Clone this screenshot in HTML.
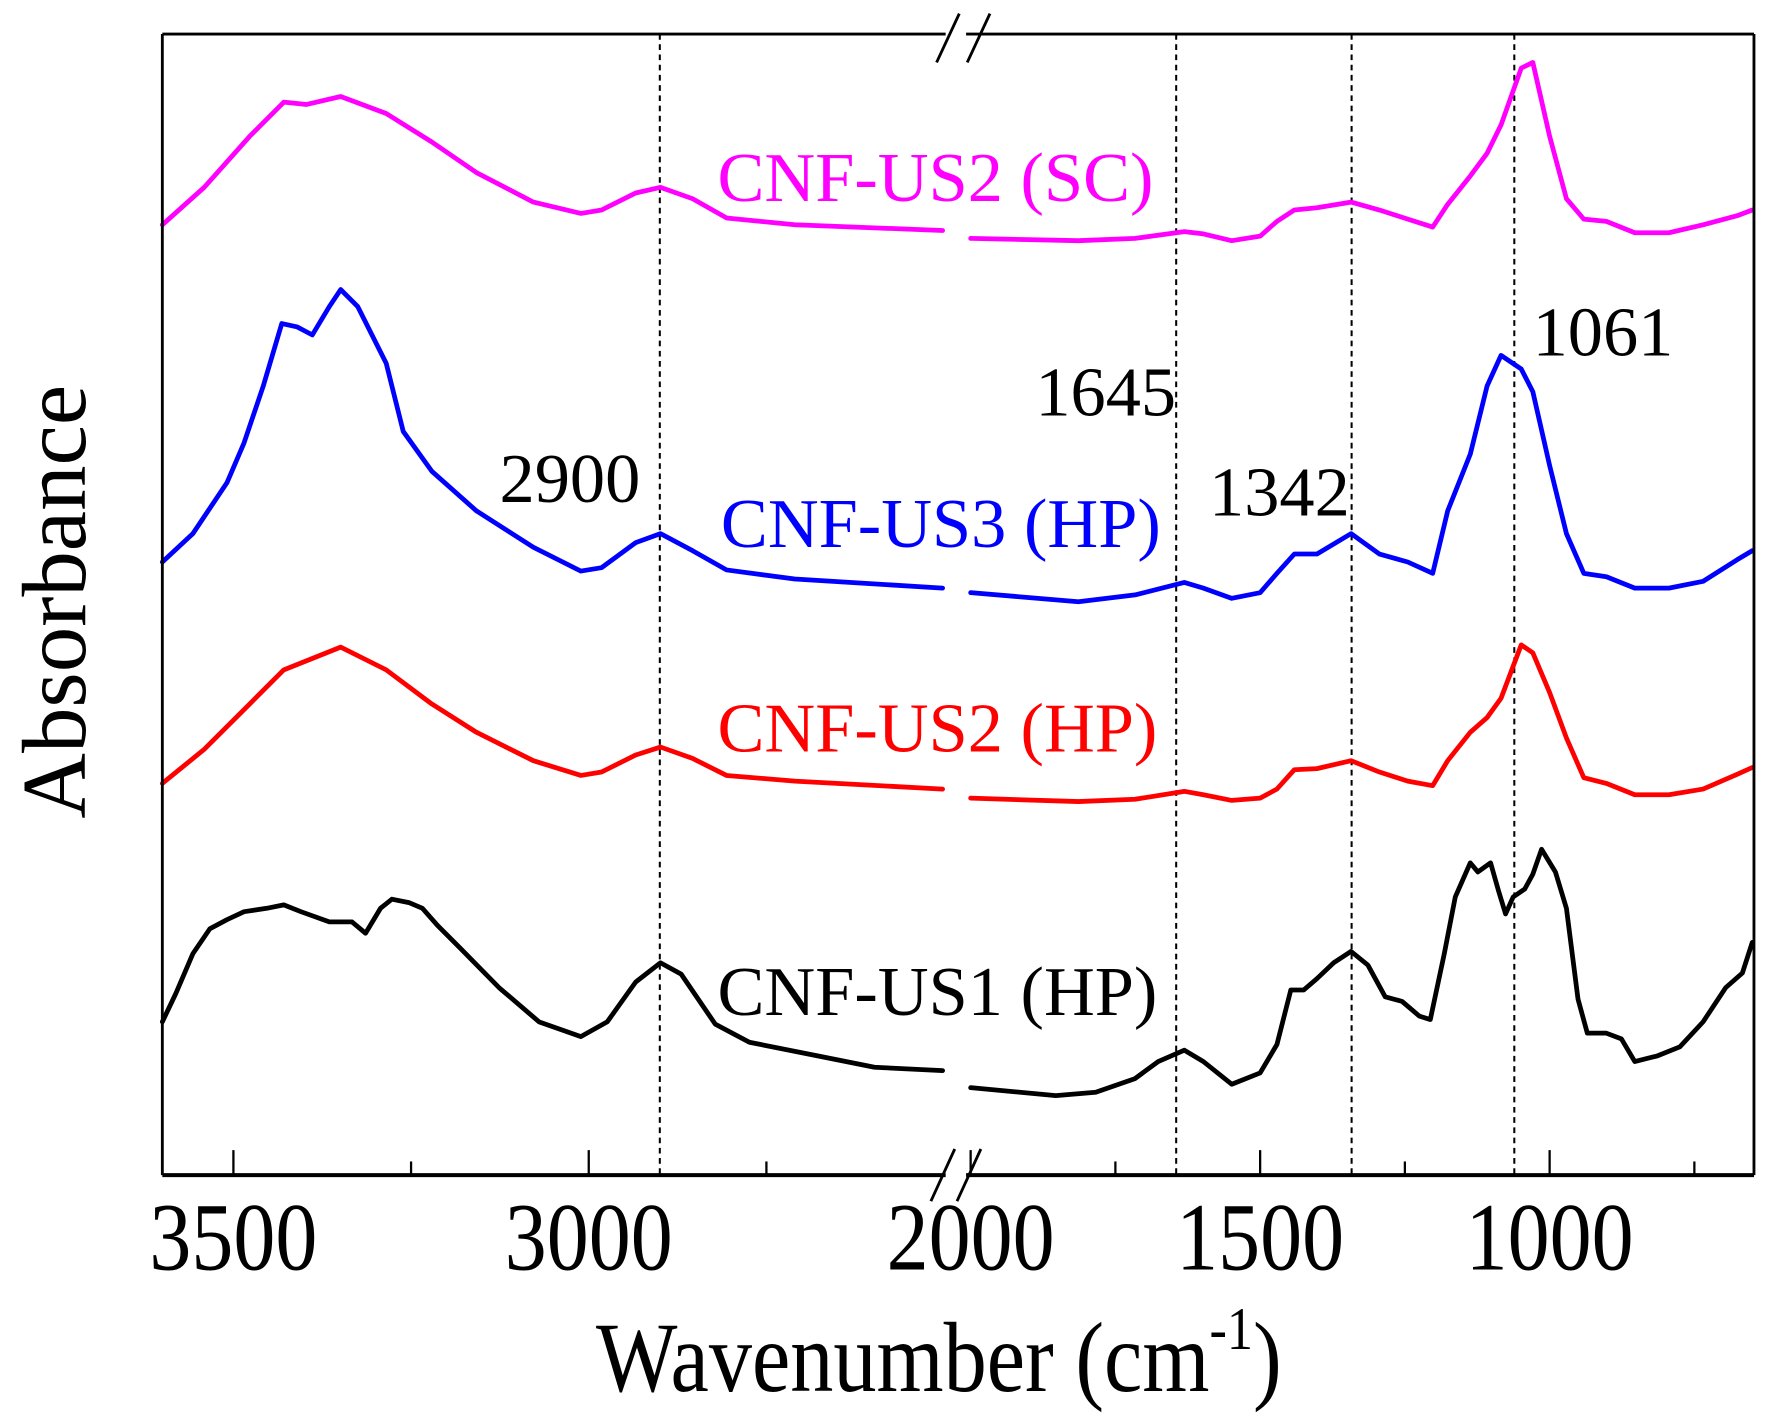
<!DOCTYPE html>
<html><head><meta charset="utf-8"><style>
html,body{margin:0;padding:0;background:#fff;}
svg{display:block;font-family:"Liberation Serif",serif;}
</style></head><body>
<svg id="chart" width="1771" height="1426" viewBox="0 0 1560 1256" preserveAspectRatio="none" xmlns="http://www.w3.org/2000/svg">
<rect x="0" y="0" width="1560" height="1256" fill="#fff"/>
<g id="grid"></g>
<g id="curves"></g>
<g id="frame"></g>
<g id="labels"></g>
</svg>
<script>
// ---- data (wavenumber cm-1, absorbance offset a.u.) ----
const segLeftDomain = [3600, 2500];
const segRightDomain = [2000, 650];
const xTicksMajor = [3500, 3000, 2000, 1500, 1000];
const xTickLabels = ["3500", "3000", "2000", "1500", "1000"];
const xTicksMinor = [3250, 2750, 1750, 1250, 750];
const markerLines = [2900, 1645, 1342, 1061];
const markerLabels = ["2900", "1645", "1342", "1061"];

const gridLeft = [3600,3541,3477,3429,3397,3349,3285,3221,3158,3078,3011,2982,2934,2899,2854,2806,2710,2502];
const gridRight = [2000,1814,1716,1631,1598,1549,1500,1471,1441,1402,1343,1294,1245,1202,1176,1137,1108,1084,1049,1029,1000,971,941,902,853,794,735,676,650];

const magentaLeft = [837,870,915,945,943,950,935,910,883,857,847,850,865,870,860,843,837,832];
const magentaRight = [825,823,825,831,829,823,827,840,850,852,857,850,842,835,855,880,900,925,975,980,915,860,842,840,830,830,837,845,850];

const blueLeftWn = [3600,3557,3509,3485,3458,3432,3410,3389,3365,3349,3325,3285,3261,3221,3158,3078,3011,2982,2934,2899,2854,2806,2710,2502];
const blueLeft = [540,565,610,645,695,750,747,740,765,780,765,715,655,620,585,553,532,535,557,565,550,533,525,517];
const blueRight = [513,505,511,522,517,508,513,530,547,547,565,547,540,530,585,635,695,722,710,690,625,565,530,527,517,517,523,542,550];

const redLeft = [345,375,415,445,453,465,445,415,390,365,352,355,370,377,367,352,347,340];
const redRight = [332,329,331,338,335,330,332,340,357,358,365,355,347,343,365,390,403,420,467,460,425,385,350,345,335,335,340,353,359];

const blackLeftWn = [3600,3581,3557,3533,3509,3485,3453,3429,3405,3365,3333,3314,3293,3277,3253,3234,3213,3181,3126,3070,3011,2974,2934,2899,2870,2822,2774,2678,2598,2502];
const blackLeft = [135,160,195,217,225,232,235,238,232,223,223,213,235,243,240,235,220,200,165,135,122,135,170,187,177,133,117,105,95,92];
const blackRightWn = [2000,1853,1784,1716,1676,1631,1598,1549,1500,1471,1447,1425,1402,1373,1343,1314,1284,1255,1225,1206,1182,1163,1137,1124,1102,1088,1076,1063,1043,1029,1014,990,971,951,935,902,876,853,814,775,735,696,667,650];
const blackRight = [77,70,73,85,100,110,100,80,90,115,163,163,173,187,197,185,157,153,140,137,195,245,275,267,275,250,230,245,252,265,287,267,235,155,125,125,120,100,105,113,135,165,178,205];

const seriesNames = ["CNF-US2 (SC)", "CNF-US3 (HP)", "CNF-US2 (HP)", "CNF-US1 (HP)"];

// ---- layout ----
const NS = "http://www.w3.org/2000/svg";
const plot = {left:143, right:1545, top:30, bottom:1035};
const leftPx = [143, 831.6];
const rightPx = [855, 855 + 1350*0.51];
function xScale(w){
  if (w >= 2250) return leftPx[0] + (segLeftDomain[0]-w)*(leftPx[1]-leftPx[0])/(segLeftDomain[0]-segLeftDomain[1]);
  return rightPx[0] + (segRightDomain[0]-w)*(rightPx[1]-rightPx[0])/(segRightDomain[0]-segRightDomain[1]);
}
function yScale(v){ return plot.bottom - v; }
function mk(tag, attrs, parent){
  const e = document.createElementNS(NS, tag);
  for (const k in attrs) e.setAttribute(k, attrs[k]);
  parent.appendChild(e); return e;
}
const gGrid = document.getElementById('grid');
const gCurves = document.getElementById('curves');
const gFrame = document.getElementById('frame');
const gLabels = document.getElementById('labels');

markerLines.forEach((w,i)=>{
  const l = mk('line',{x1:xScale(w),x2:xScale(w),y1:plot.top,y2:plot.bottom,stroke:'#000','stroke-width':1.8,'stroke-dasharray':'5,4'},gGrid);
  
  
});

function drawSeries(wn, vals, color, name){
  const d = wn.map((w,i)=>(i?'L':'M')+xScale(w).toFixed(1)+','+yScale(vals[i]).toFixed(1)).join(' ');
  const p = mk('path',{d:d,fill:'none',stroke:color,'stroke-width':4.2,'stroke-linejoin':'round','stroke-linecap':'round'},gCurves);
  
  
}
drawSeries(gridLeft, magentaLeft, '#ff00ff', 'cnf-us2-sc-left');
drawSeries(gridRight, magentaRight, '#ff00ff', 'cnf-us2-sc-right');
drawSeries(blueLeftWn, blueLeft, '#0000ff', 'cnf-us3-hp-left');
drawSeries(gridRight, blueRight, '#0000ff', 'cnf-us3-hp-right');
drawSeries(gridLeft, redLeft, '#ff0000', 'cnf-us2-hp-left');
drawSeries(gridRight, redRight, '#ff0000', 'cnf-us2-hp-right');
drawSeries(blackLeftWn, blackLeft, '#000000', 'cnf-us1-hp-left');
drawSeries(blackRightWn, blackRight, '#000000', 'cnf-us1-hp-right');

const frameLines = [
  [plot.left,plot.top,833,plot.top,2.5],[851,plot.top,plot.right,plot.top,2.5],
  [plot.left,plot.top,plot.left,plot.bottom,2.5],[plot.right,plot.top,plot.right,plot.bottom,2.5],
  [plot.left,plot.bottom,833,plot.bottom,3.5],[851,plot.bottom,plot.right,plot.bottom,3.5]
];
frameLines.forEach(f=>{
  const l = mk('line',{x1:f[0],y1:f[1],x2:f[2],y2:f[3],stroke:'#000','stroke-width':f[4]},gFrame);
  
  
});
[[825,55,845,12],[852,55,872,12],[820,1058,841,1012],[843,1058,864,1012]].forEach(b=>{
  const l = mk('line',{x1:b[0],y1:b[1],x2:b[2],y2:b[3],stroke:'#000','stroke-width':2.5},gFrame);
  
  
});
xTicksMajor.forEach((w,i)=>{
  const x = xScale(w);
  const t = mk('line',{x1:x,x2:x,y1:plot.bottom,y2:plot.bottom-22,stroke:'#000','stroke-width':2},gFrame);
  
  
  const tx = mk('text',{'font-size':74,'text-anchor':'middle',fill:'#000',transform:'translate('+x+',1118) scale(1,1.15)'},gLabels);
  tx.textContent = xTickLabels[i];
  
  
});
xTicksMinor.forEach(w=>{
  const x = xScale(w);
  const t = mk('line',{x1:x,x2:x,y1:plot.bottom,y2:plot.bottom-12,stroke:'#000','stroke-width':2},gFrame);
  
  
});
</script>
<script>
(function(){
  const svg = document.getElementById('labels');
  const NS = "http://www.w3.org/2000/svg";
  function txt(s,x,y,size,color,name,anchor){
    const t = document.createElementNS(NS,'text');
    t.setAttribute('x',x); t.setAttribute('y',y); t.setAttribute('font-size',size);
    t.setAttribute('fill',color); if(anchor) t.setAttribute('text-anchor',anchor);
    t.textContent = s;
    
    
    svg.appendChild(t); return t;
  }
  txt(seriesNames[0],632,177,62,'#ff00ff','label-cnf-us2-sc');
  txt(seriesNames[1],635,482,62,'#0000ff','label-cnf-us3-hp');
  txt(seriesNames[2],632,662,62,'#ff0000','label-cnf-us2-hp');
  txt(seriesNames[3],632,894,62,'#000000','label-cnf-us1-hp');
  txt(markerLabels[0],440,442,62,'#000','peak-label-2900');
  txt(markerLabels[1],912,366,62,'#000','peak-label-1645');
  txt(markerLabels[2],1065,454,62,'#000','peak-label-1342');
  txt(markerLabels[3],1350,313,62,'#000','peak-label-1061');
  const xt = txt('Wavenumber (cm',0,0,76,'#000','x-axis-title');
  xt.setAttribute('transform','translate(525,1225) scale(1,1.15)');
  const sup = document.createElementNS(NS,'tspan');
  sup.setAttribute('font-size',46); sup.setAttribute('dy',-32); sup.textContent='-1';
  xt.appendChild(sup);
  const cl = document.createElementNS(NS,'tspan');
  cl.setAttribute('dy',32); cl.textContent=')';
  xt.appendChild(cl);
  const yt = txt('Absorbance',0,0,80,'#000','y-axis-title','middle');
  yt.setAttribute('transform','translate(75,530) rotate(-90)');
})();
</script>
</body></html>
